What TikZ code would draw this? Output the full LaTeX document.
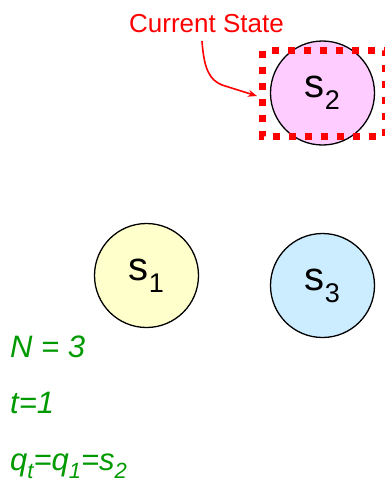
\documentclass[tikz,border=0pt]{standalone}
\usepackage{fontspec}
\usetikzlibrary{arrows.meta}
\setmainfont{Liberation Sans}
\definecolor{redc}{RGB}{255,0,0}
\definecolor{greenc}{RGB}{0,153,0}
\definecolor{pinkc}{RGB}{255,204,255}
\definecolor{yellowc}{RGB}{255,255,204}
\definecolor{bluec}{RGB}{204,236,255}
\newcommand{\stlabel}[1]{\raisebox{-4pt}{{\fontsize{40}{40}\selectfont s}\raisebox{-12pt}{\fontsize{27}{27}\selectfont #1}}}
\newcommand{\gsub}[1]{\raisebox{-8pt}{\fontsize{22}{22}\selectfont #1}}
\begin{document}
\begin{tikzpicture}[x=1pt,y=-1pt,
  statec/.style={circle,draw=black,line width=1.3pt,minimum size=104pt,inner sep=0pt},
  greentext/.style={anchor=base west,inner sep=0pt,text=greenc,font=\fontsize{31}{31}\selectfont\itshape}]
\useasboundingbox (0,0) rectangle (385,482);
\node[statec,fill=pinkc] (s2) at (322.5,93) {\stlabel{2}};
\node[statec,fill=yellowc] (s1) at (146.5,275.5) {\stlabel{1}};
\node[statec,fill=bluec] (s3) at (322.5,285.5) {\stlabel{3}};
\draw[redc,line width=7pt,dash pattern=on 7pt off 9pt] (262.5,50.5) rectangle (385,136);
\node[anchor=base,inner sep=0pt,text=redc,font=\fontsize{26}{26}\selectfont] (cs) at (206.5,32) {Current State};
\coordinate (a0) at (202,41);
\coordinate (a1) at (257,96);
\draw[redc,line width=1.6pt,-{Stealth[length=9pt,width=7pt]}] (a0) .. controls (204,70) and (210,80) .. (222,85) -- (a1);
\node[greentext] (n) at (10,357) {N = 3};
\node[greentext] (t) at (10,413) {t=1};
\node[greentext] (q) at (10,470) {q\gsub{t}=q\gsub{1}=s\gsub{2}};
\end{tikzpicture}
\end{document}
